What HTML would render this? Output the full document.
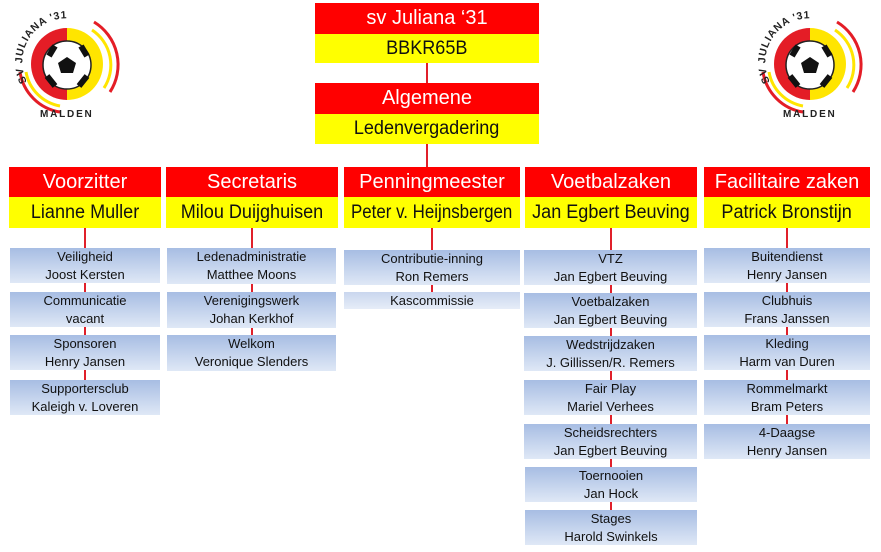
<!DOCTYPE html>
<html><head><meta charset="utf-8"><style>
body{margin:0;width:881px;height:552px;background:#fff;position:relative;overflow:hidden;font-family:"Liberation Sans",Arial,sans-serif}
.r,.y,.s{position:absolute;display:flex;align-items:center;justify-content:center;white-space:nowrap;text-align:center}
.r{background:#ff0000;color:#fff;font-size:20px}
.y{background:#ffff00;color:#111;font-size:19px}
.y span{display:inline-block;transform:scaleX(.95)}
.s{background:linear-gradient(#a7bde3,#dfe8f6);color:#111;font-size:13px;line-height:18px;flex-direction:column}
.s span{display:block}
.l{position:absolute;width:2px;background:#e0202a}
</style></head><body>

<svg style="position:absolute;left:0;top:0" width="140" height="130" viewBox="0 0 140 130">
<defs><path id="ta" d="M27,82 A44,44 0 0 1 84,22"/></defs>
<path d="M67,28 A36,36 0 0 0 67,100 Z" fill="#e41d26"/><path d="M67,28 A36,36 0 0 1 67,100 Z" fill="#ffe500"/>
<path d="M94,22 A50,50 0 0 1 110,92" stroke="#e41d26" stroke-width="3" fill="none"/>
<path d="M92,30 A42,42 0 0 1 104,88" stroke="#ffe500" stroke-width="3" fill="none"/>
<path d="M20,72 A48,48 0 0 0 60,112" stroke="#e41d26" stroke-width="3" fill="none"/>
<path d="M26,72 A42,42 0 0 0 60,106" stroke="#ffe500" stroke-width="3" fill="none"/>
<circle cx="67" cy="65" r="24" fill="#fff" stroke="#222" stroke-width="1.5"/>
<polygon points="67,57 76,63 73,73 61,73 58,63" fill="#111"/>
<path d="M55,46 L49,56 M81,46 L87,56 M47,76 L55,86 M87,76 L79,86" stroke="#111" stroke-width="6"/>
<text font-size="10.5" font-weight="bold" fill="#222" letter-spacing="0.8"><textPath href="#ta">SV JULIANA '31</textPath></text>
<text x="40" y="117" font-size="10" font-weight="bold" fill="#222" letter-spacing="1.8">MALDEN</text>
</svg>
<svg style="position:absolute;left:743px;top:0" width="140" height="130" viewBox="0 0 140 130">
<defs><path id="ta2" d="M27,82 A44,44 0 0 1 84,22"/></defs>
<path d="M67,28 A36,36 0 0 0 67,100 Z" fill="#e41d26"/><path d="M67,28 A36,36 0 0 1 67,100 Z" fill="#ffe500"/>
<path d="M94,22 A50,50 0 0 1 110,92" stroke="#e41d26" stroke-width="3" fill="none"/>
<path d="M92,30 A42,42 0 0 1 104,88" stroke="#ffe500" stroke-width="3" fill="none"/>
<path d="M20,72 A48,48 0 0 0 60,112" stroke="#e41d26" stroke-width="3" fill="none"/>
<path d="M26,72 A42,42 0 0 0 60,106" stroke="#ffe500" stroke-width="3" fill="none"/>
<circle cx="67" cy="65" r="24" fill="#fff" stroke="#222" stroke-width="1.5"/>
<polygon points="67,57 76,63 73,73 61,73 58,63" fill="#111"/>
<path d="M55,46 L49,56 M81,46 L87,56 M47,76 L55,86 M87,76 L79,86" stroke="#111" stroke-width="6"/>
<text font-size="10.5" font-weight="bold" fill="#222" letter-spacing="0.8"><textPath href="#ta2">SV JULIANA '31</textPath></text>
<text x="40" y="117" font-size="10" font-weight="bold" fill="#222" letter-spacing="1.8">MALDEN</text>
</svg>

<div class="r" style="left:315px;top:3px;width:224px;height:31px"><span>sv Juliana ‘31</span></div>
<div class="y" style="left:315px;top:34px;width:224px;height:29px"><span>BBKR65B</span></div>
<div class="l" style="left:426px;top:63px;height:20px"></div>
<div class="r" style="left:315px;top:83px;width:224px;height:31px"><span>Algemene</span></div>
<div class="y" style="left:315px;top:114px;width:224px;height:30px"><span>Ledenvergadering</span></div>
<div class="l" style="left:426px;top:144px;height:23px"></div>

<div class="r" style="left:9px;top:167px;width:152px;height:30px"><span>Voorzitter</span></div>
<div class="y" style="left:9px;top:197px;width:152px;height:31px"><span>Lianne Muller</span></div>
<div class="r" style="left:166px;top:167px;width:172px;height:30px"><span>Secretaris</span></div>
<div class="y" style="left:166px;top:197px;width:172px;height:31px"><span>Milou Duijghuisen</span></div>
<div class="r" style="left:344px;top:167px;width:176px;height:30px"><span>Penningmeester</span></div>
<div class="y" style="left:344px;top:197px;width:176px;height:31px"><span style="transform:scaleX(.89)">Peter v. Heijnsbergen</span></div>
<div class="r" style="left:525px;top:167px;width:172px;height:30px"><span>Voetbalzaken</span></div>
<div class="y" style="left:525px;top:197px;width:172px;height:31px"><span>Jan Egbert Beuving</span></div>
<div class="r" style="left:704px;top:167px;width:166px;height:30px"><span>Facilitaire zaken</span></div>
<div class="y" style="left:704px;top:197px;width:166px;height:31px"><span>Patrick Bronstijn</span></div>

<div class="l" style="left:84px;top:228px;height:180px"></div>
<div class="l" style="left:251px;top:228px;height:110px"></div>
<div class="l" style="left:431px;top:228px;height:68px"></div>
<div class="l" style="left:610px;top:228px;height:285px"></div>
<div class="l" style="left:786px;top:228px;height:225px"></div>

<div class="s" style="left:10px;top:248px;width:150px;height:35px"><span>Veiligheid</span><span>Joost Kersten</span></div>
<div class="s" style="left:10px;top:292px;width:150px;height:35px"><span>Communicatie</span><span>vacant</span></div>
<div class="s" style="left:10px;top:335px;width:150px;height:35px"><span>Sponsoren</span><span>Henry Jansen</span></div>
<div class="s" style="left:10px;top:380px;width:150px;height:35px"><span>Supportersclub</span><span>Kaleigh v. Loveren</span></div>

<div class="s" style="left:167px;top:248px;width:169px;height:36px"><span>Ledenadministratie</span><span>Matthee Moons</span></div>
<div class="s" style="left:167px;top:292px;width:169px;height:36px"><span>Verenigingswerk</span><span>Johan Kerkhof</span></div>
<div class="s" style="left:167px;top:335px;width:169px;height:36px"><span>Welkom</span><span>Veronique Slenders</span></div>

<div class="s" style="left:344px;top:250px;width:176px;height:35px"><span>Contributie-inning</span><span>Ron Remers</span></div>
<div class="s" style="left:344px;top:292px;width:176px;height:17px;background:linear-gradient(#c9d6ee,#e6edf8)"><span>Kascommissie</span></div>

<div class="s" style="left:524px;top:250px;width:173px;height:35px"><span>VTZ</span><span>Jan Egbert Beuving</span></div>
<div class="s" style="left:524px;top:293px;width:173px;height:35px"><span>Voetbalzaken</span><span>Jan Egbert Beuving</span></div>
<div class="s" style="left:524px;top:336px;width:173px;height:35px"><span>Wedstrijdzaken</span><span>J. Gillissen/R. Remers</span></div>
<div class="s" style="left:524px;top:380px;width:173px;height:35px"><span>Fair Play</span><span>Mariel Verhees</span></div>
<div class="s" style="left:524px;top:424px;width:173px;height:35px"><span>Scheidsrechters</span><span>Jan Egbert Beuving</span></div>
<div class="s" style="left:525px;top:467px;width:172px;height:35px"><span>Toernooien</span><span>Jan Hock</span></div>
<div class="s" style="left:525px;top:510px;width:172px;height:35px"><span>Stages</span><span>Harold Swinkels</span></div>

<div class="s" style="left:704px;top:248px;width:166px;height:35px"><span>Buitendienst</span><span>Henry Jansen</span></div>
<div class="s" style="left:704px;top:292px;width:166px;height:35px"><span>Clubhuis</span><span>Frans Janssen</span></div>
<div class="s" style="left:704px;top:335px;width:166px;height:35px"><span>Kleding</span><span>Harm van Duren</span></div>
<div class="s" style="left:704px;top:380px;width:166px;height:35px"><span>Rommelmarkt</span><span>Bram Peters</span></div>
<div class="s" style="left:704px;top:424px;width:166px;height:35px"><span>4-Daagse</span><span>Henry Jansen</span></div>
</body></html>
